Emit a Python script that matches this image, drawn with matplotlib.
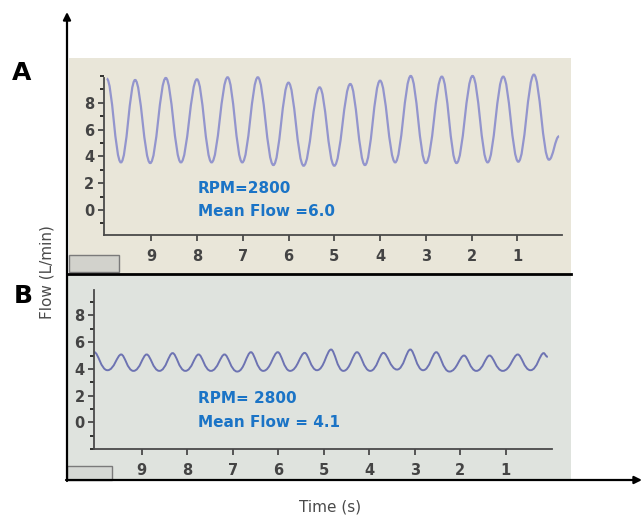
import matplotlib as mpl
mpl.use('Agg')
import matplotlib.pyplot as plt
from matplotlib.path import Path
from matplotlib.patches import PathPatch, Rectangle
from matplotlib.ticker import MultipleLocator

# panel A: RPM 2800, mean flow 6.0  (time axis counts down, seconds)
a_peak_t = [9.97, 9.35, 8.68, 8.00, 7.33, 6.67, 6.00, 5.32, 4.65, 4.00, 3.33, 2.65, 1.98, 1.31, 0.64]
a_peak_v = [9.8, 9.7, 9.85, 9.75, 9.9, 9.9, 9.5, 9.15, 9.4, 9.65, 10.0, 9.95, 10.0, 9.95, 10.1]
a_trough_t = [9.66, 9.02, 8.35, 7.68, 7.01, 6.33, 5.67, 5.00, 4.33, 3.67, 3.00, 2.33, 1.65, 0.98, 0.31]
a_trough_v = [3.55, 3.5, 3.55, 3.55, 3.55, 3.35, 3.3, 3.3, 3.35, 3.55, 3.5, 3.5, 3.55, 3.6, 3.75]
a_end = (0.09, 5.5)

# panel B: RPM 2800, mean flow 4.1
b_start = (10.04, 5.25)
b_trough_t = [9.75, 9.18, 8.61, 8.04, 7.48, 6.90, 6.33, 5.74, 5.15, 4.57, 3.98, 3.39, 2.82, 2.24, 1.65, 1.07, 0.46]
b_trough_v = [3.9, 3.85, 3.85, 3.85, 3.85, 3.8, 3.85, 3.85, 3.9, 3.85, 3.85, 3.95, 3.9, 3.8, 3.85, 3.85, 3.9]
b_peak_t = [9.45, 8.89, 8.32, 7.75, 7.18, 6.60, 6.01, 5.42, 4.84, 4.27, 3.69, 3.10, 2.53, 1.92, 1.36, 0.74, 0.17]
b_peak_v = [5.08, 5.08, 5.18, 5.08, 5.08, 5.25, 5.25, 5.2, 5.45, 5.25, 5.2, 5.45, 5.25, 5.0, 5.0, 5.08, 5.18]
b_end = (0.08, 4.9)

x_ticks = [9, 8, 7, 6, 5, 4, 3, 2, 1]
y_ticks = [0, 2, 4, 6, 8]

text_blue = '#1b74c6'
tick_grey = '#444444'


def trace(t, v, k_peak, k_trough):
	# smooth trace through the read-off extrema, flat tangent at each one
	verts = [(t[0], v[0])]
	codes = [Path.MOVETO]
	for i in range(len(t) - 1):
		t0, v0, t1, v1 = t[i], v[i], t[i + 1], v[i + 1]
		d = t1 - t0
		k0 = k_peak if v0 > v1 else k_trough
		k1 = k_trough if v1 < v0 else k_peak
		verts += [(t0 + d * k0, v0), (t1 - d * k1, v1), (t1, v1)]
		codes += [Path.CURVE4] * 3
	return Path(verts, codes)


def style(ax, top):
	ax.set_facecolor('none')
	for s in ['top', 'right']:
		ax.spines[s].set_visible(False)
	for s in ['left', 'bottom']:
		ax.spines[s].set_color('#4a4a4a')
		ax.spines[s].set_linewidth(1.3)
	ax.spines['left'].set_bounds(ax.get_ylim()[0], top)
	ax.set_xticks(x_ticks)
	ax.set_yticks(y_ticks)
	ax.yaxis.set_minor_locator(MultipleLocator(1))
	ax.tick_params(axis='both', colors='#4a4a4a', labelcolor=tick_grey, labelsize=10.5, width=1.3)
	ax.tick_params(axis='x', length=4, pad=6)
	ax.tick_params(axis='y', which='major', length=4, pad=3)
	ax.tick_params(axis='y', which='minor', length=3, width=1.1)
	for lab in ax.get_xticklabels() + ax.get_yticklabels():
		lab.set_fontweight('bold')


fig = plt.figure(figsize=(6.44, 5.18), dpi=100)

# background layer in pixel coordinates: photo panels, separator, outer arrows
bg = fig.add_axes([0, 0, 1, 1])
bg.set_xlim(0, 644)
bg.set_ylim(518, 0)
bg.axis('off')
bg.add_patch(Rectangle((69, 58), 502, 216, color='#e9e6d9', lw=0))
bg.add_patch(Rectangle((67, 275), 504, 205, color='#dfe3de', lw=0))
bg.plot([67, 571], [274, 274], color='black', lw=2)
bg.add_patch(Rectangle((69, 255), 50, 17, facecolor='#d2d2cc', edgecolor='#7a7a7a', lw=1))
bg.add_patch(Rectangle((67, 466), 45, 14, facecolor='#d5d8d4', edgecolor='#7a7a7a', lw=1))
bg.annotate('', xy=(67, 12), xytext=(67, 481),
	arrowprops=dict(arrowstyle='-|>', lw=1.6, color='black', mutation_scale=11, shrinkA=0, shrinkB=0))
bg.annotate('', xy=(642, 480), xytext=(66, 480),
	arrowprops=dict(arrowstyle='-|>', lw=1.6, color='black', mutation_scale=11, shrinkA=0, shrinkB=0))
bg.text(22, 73, 'A', fontsize=18, fontweight='bold', ha='center', va='center')
bg.text(23, 296, 'B', fontsize=18, fontweight='bold', ha='center', va='center')
bg.text(47, 272, 'Flow (L/min)', rotation=90, fontsize=11, color='#4a4a4a', ha='center', va='center')
bg.text(330, 507, 'Time (s)', fontsize=11, color='#4a4a4a', ha='center', va='center')

# panel A
axa = fig.add_axes([104 / 644, (518 - 235) / 518, 458 / 644, (235 - 70.6) / 518])
axa.set_xlim(10.03, 0.026)
axa.set_ylim(-1.87, 10.4)
style(axa, 9.85)
a_t, a_v = [], []
for i in range(len(a_peak_t)):
	a_t += [a_peak_t[i], a_trough_t[i]]
	a_v += [a_peak_v[i], a_trough_v[i]]
a_t.append(a_end[0])
a_v.append(a_end[1])
axa.add_patch(PathPatch(trace(a_t, a_v, 0.38, 0.4), fill=False, edgecolor='#9395cd', lw=1.6, clip_on=False))
axa.text(0.205, 0.285, 'RPM=2800', transform=axa.transAxes, color=text_blue, fontsize=11, fontweight='bold', va='center')
axa.text(0.205, 0.14, 'Mean Flow =6.0', transform=axa.transAxes, color=text_blue, fontsize=11, fontweight='bold', va='center')

# panel B
axb = fig.add_axes([94.3 / 644, (518 - 449) / 518, 457.4 / 644, (449 - 290.1) / 518])
axb.set_xlim(10.04, -0.005)
axb.set_ylim(-2.0, 9.9)
style(axb, 9.9)
b_t, b_v = [b_start[0]], [b_start[1]]
for i in range(len(b_trough_t)):
	b_t += [b_trough_t[i], b_peak_t[i]]
	b_v += [b_trough_v[i], b_peak_v[i]]
b_t.append(b_end[0])
b_v.append(b_end[1])
axb.add_patch(PathPatch(trace(b_t, b_v, 0.3, 0.5), fill=False, edgecolor='#6d73b2', lw=1.4))
axb.text(0.227, 0.318, 'RPM= 2800', transform=axb.transAxes, color=text_blue, fontsize=11, fontweight='bold', va='center')
axb.text(0.227, 0.164, 'Mean Flow = 4.1', transform=axb.transAxes, color=text_blue, fontsize=11, fontweight='bold', va='center')

fig.savefig('out.png', dpi=100)
